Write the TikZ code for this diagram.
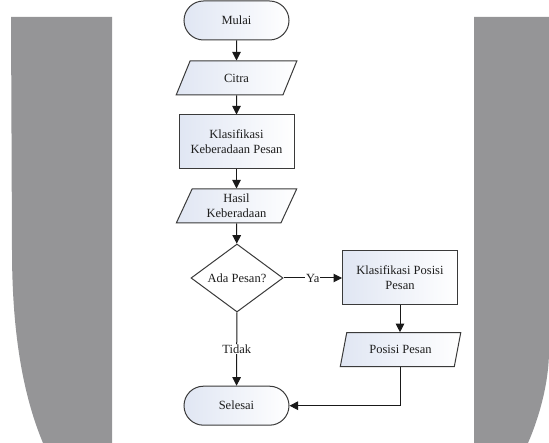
\documentclass[tikz,border=0pt]{standalone}
\usepackage{fontspec}
\setmainfont{Liberation Serif}
\usetikzlibrary{shapes.geometric,shapes.misc,arrows.meta}
\definecolor{wm}{HTML}{959597}
\definecolor{edgec}{HTML}{3A3A3A}
\definecolor{fillL}{HTML}{E0E6F3}
\definecolor{txt}{HTML}{1E1E1E}
\tikzset{
  base/.style={draw=edgec, line width=1pt, text=txt,
    font=\fontsize{12.5}{15}\selectfont, align=center, inner sep=0pt},
  softfill/.style={left color=fillL, right color=white},
  term/.style={base, softfill, rounded rectangle, minimum width=105pt, minimum height=39pt},
  io/.style={base, softfill, trapezium, trapezium left angle=66, trapezium right angle=114,
    trapezium stretches=true, minimum width=121pt, minimum height=34pt},
  proc/.style={base, softfill, rectangle, minimum width=115pt, minimum height=54pt},
  decision/.style={base, fill=white, diamond, minimum width=92pt, minimum height=68pt},
  flow/.style={draw=black!90, line width=1pt, -{Triangle[length=8.5pt,width=8.5pt]}},
  lbl/.style={fill=white, text=txt, font=\fontsize{12.5}{15}\selectfont, inner sep=1pt}
}
\begin{document}
\begin{tikzpicture}[x=1pt,y=-1pt]
\useasboundingbox (0,0) rectangle (549,443);
% watermark panels
\fill[wm] (11,17) -- (112,17) -- (112,443) -- (43,443)
  .. controls (25,400) and (12,340) .. (12,250) -- cycle;
\fill[wm] (474,17) -- (549,17) -- (549,350)
  .. controls (549,385) and (538,420) .. (528,443) -- (474,443) -- cycle;

% flowchart nodes
\node[term]     (mulai)   at (236.5,20.5) {Mulai};
\node[io]       (citra)   at (236.5,78)   {Citra};
\node[proc]     (klas1)   at (236.5,142)  {Klasifikasi\\Keberadaan Pesan};
\node[io]       (hasil)   at (236.5,206)  {Hasil\\Keberadaan};
\node[decision] (ada)     at (237,278)    {Ada Pesan?};
\node[proc]     (klas2)   at (400,278)    {Klasifikasi Posisi\\Pesan};
\node[io]       (posisi)  at (400.5,349.7){Posisi Pesan};
\node[term]     (selesai) at (236.5,405.7){Selesai};

% connectors
\draw[flow] (mulai) -- (citra);
\draw[flow] (citra) -- (klas1);
\draw[flow] (klas1) -- (hasil);
\draw[flow] (hasil) -- (ada);
\draw[flow] (ada) -- node[lbl] {Ya} (klas2);
\draw[flow] (klas2) -- (posisi.north -| klas2.south);
\draw[flow] (ada) -- node[lbl] {Tidak} (selesai);
\draw[flow] (posisi.south -| klas2.south) |- (selesai.east);
\end{tikzpicture}
\end{document}
